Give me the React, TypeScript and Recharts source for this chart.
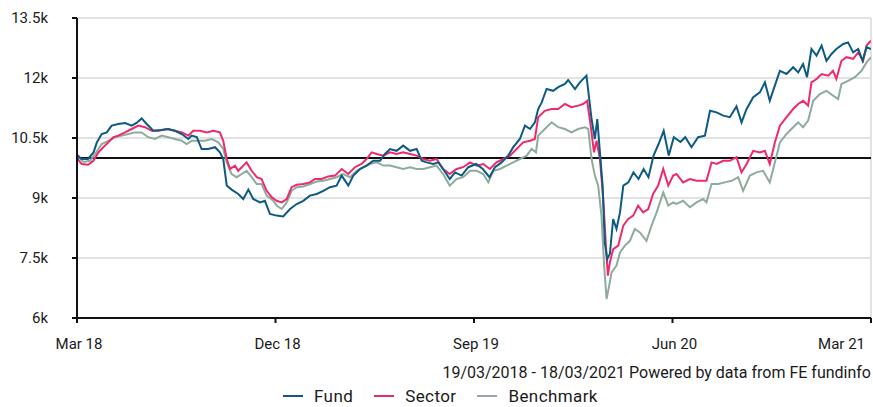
import {
  LineChart,
  Line,
  XAxis,
  YAxis,
  CartesianGrid,
  ReferenceLine,
} from 'recharts';

// months since 19/03/2018
const fundMonths = [
  0, 0.2, 0.5, 0.75, 0.9, 1.12, 1.35, 1.57, 1.87, 2.18, 2.48, 2.7, 2.93, 3.16, 3.46, 3.84, 4.14,
  4.44, 4.75, 5.05, 5.2, 5.43, 5.65, 5.95, 6.26, 6.48, 6.63, 6.79, 7.01, 7.31, 7.54, 7.77, 7.99,
  8.3, 8.52, 8.75, 9.05, 9.35, 9.66, 9.96, 10.26, 10.56, 10.87, 11.17, 11.47, 11.77, 12.0, 12.3,
  12.53, 12.83, 13.13, 13.43, 13.74, 13.96, 14.19, 14.49, 14.79, 15.1, 15.4, 15.63, 15.85, 16.15,
  16.38, 16.6, 16.9, 17.14, 17.44, 17.74, 18.1, 18.4, 18.7, 18.95, 19.25, 19.55, 19.78, 20.08,
  20.31, 20.54, 20.76, 20.91, 21.07, 21.29, 21.59, 21.82, 22.12, 22.27, 22.58, 22.8, 23.1, 23.33,
  23.48, 23.59, 23.71, 23.83, 23.93, 24.04, 24.16, 24.31, 24.46, 24.62, 24.77, 25.0, 25.23, 25.46,
  25.69, 25.91, 26.14, 26.37, 26.6, 26.83, 27.06, 27.36, 27.58, 27.86, 28.16, 28.47, 28.7, 29.0,
  29.3, 29.6, 29.9, 30.13, 30.36, 30.66, 30.96, 31.19, 31.41, 31.64, 31.87, 32.17, 32.47, 32.7,
  32.92, 33.1, 33.3, 33.53, 33.76, 33.98, 34.21, 34.43, 34.74, 34.96, 35.19, 35.42, 35.62, 35.8, 36,
];
const fundValues = [
  10080, 9975, 9975, 10140, 10390, 10600, 10640, 10810, 10850, 10875, 10810, 10875, 10990, 10850,
  10680, 10700, 10725, 10680, 10600, 10475, 10560, 10525, 10225, 10225, 10270, 10140, 9975, 9310,
  9210, 9100, 8975, 9210, 8975, 8890, 8930, 8600, 8560, 8540, 8725, 8850, 8930, 9060, 9100, 9180,
  9270, 9310, 9560, 9310, 9560, 9725, 9810, 9930, 9930, 10100, 10225, 10180, 10310, 10180, 10225,
  9930, 9890, 9850, 9890, 9725, 9475, 9640, 9560, 9770, 9850, 9725, 9520, 9770, 9890, 10060, 10270,
  10475, 10810, 10725, 10890, 11225, 11390, 11725, 11680, 11770, 11850, 11950, 11725, 11890, 12060,
  10975, 10475, 10975, 10140, 9310, 7890, 7475, 7600, 8475, 8225, 8640, 9310, 9390, 9640, 9475,
  9725, 9520, 10060, 10350, 10680, 10060, 10520, 10400, 10520, 10270, 10520, 10560, 11180, 11140,
  11060, 11020, 11290, 10890, 11225, 11520, 11640, 11890, 11430, 11810, 12180, 12100, 12270, 12140,
  12350, 12020, 12725, 12560, 12810, 12430, 12600, 12725, 12850, 12890, 12640, 12725, 12430, 12770,
  12725,
];

const sectorMonths = [
  0, 0.21, 0.51, 0.74, 0.97, 1.19, 1.42, 1.65, 1.87, 2.18, 2.48, 2.78, 3.08, 3.39, 3.69, 4.07,
  4.44, 4.75, 5.05, 5.27, 5.58, 5.88, 6.18, 6.48, 6.63, 6.79, 6.94, 7.16, 7.31, 7.54, 7.69, 7.92,
  8.15, 8.37, 8.6, 8.83, 9.05, 9.28, 9.51, 9.73, 9.96, 10.26, 10.56, 10.79, 11.09, 11.39, 11.7,
  12.0, 12.3, 12.6, 12.9, 13.13, 13.36, 13.59, 13.89, 14.19, 14.49, 14.79, 15.1, 15.4, 15.7, 16.0,
  16.3, 16.6, 16.9, 17.21, 17.51, 17.82, 18.12, 18.42, 18.72, 19.02, 19.33, 19.63, 19.93, 20.23,
  20.54, 20.76, 20.91, 21.21, 21.52, 21.82, 22.12, 22.42, 22.72, 22.95, 23.13, 23.29, 23.44, 23.56,
  23.71, 23.86, 23.98, 24.07, 24.16, 24.31, 24.54, 24.77, 24.99, 25.22, 25.44, 25.67, 25.9, 26.12,
  26.35, 26.58, 26.81, 27.03, 27.18, 27.48, 27.79, 28.09, 28.54, 28.77, 29.0, 29.3, 29.6, 29.9,
  30.13, 30.36, 30.66, 30.96, 31.19, 31.41, 31.64, 31.87, 32.17, 32.47, 32.7, 32.92, 33.15, 33.3,
  33.53, 33.76, 34.06, 34.28, 34.43, 34.66, 34.89, 35.19, 35.42, 35.64, 35.8, 36,
];
const sectorValues = [
  10000, 9850, 9830, 9930, 10140, 10270, 10390, 10520, 10560, 10640, 10725, 10810, 10770, 10680,
  10680, 10725, 10680, 10640, 10560, 10680, 10680, 10640, 10680, 10640, 10430, 9975, 9725, 9810,
  9680, 9810, 9890, 9680, 9520, 9475, 9180, 9020, 8930, 8890, 8975, 9270, 9330, 9350, 9390, 9475,
  9475, 9540, 9560, 9725, 9600, 9770, 9850, 9975, 10140, 10100, 10060, 10140, 10100, 10140, 10100,
  10060, 9975, 9930, 9975, 9725, 9600, 9725, 9770, 9890, 9810, 9850, 9725, 9890, 9975, 10060, 10225,
  10390, 10430, 10475, 11020, 11180, 11225, 11225, 11350, 11270, 11310, 11350, 11430, 10810, 10140,
  10430, 9975, 8975, 7810, 7060, 7390, 7720, 7810, 8310, 8475, 8560, 8810, 8640, 8725, 9100, 9310,
  9725, 9310, 9560, 9600, 9390, 9475, 9430, 9430, 9890, 9850, 9930, 9930, 10020, 9640, 9850, 10180,
  10140, 10180, 9850, 10390, 10810, 11020, 11225, 11350, 11430, 11310, 11890, 11975, 12100, 12060,
  12180, 11975, 12430, 12520, 12480, 12640, 12430, 12810, 12930,
];

const benchMonths = [
  0, 0.29, 0.59, 0.82, 1.12, 1.42, 1.72, 2.03, 2.33, 2.63, 2.93, 3.23, 3.54, 3.84, 4.14, 4.44,
  4.75, 4.97, 5.2, 5.5, 5.8, 6.11, 6.41, 6.63, 6.79, 7.01, 7.24, 7.47, 7.69, 7.92, 8.15, 8.37, 8.6,
  8.9, 9.05, 9.28, 9.51, 9.73, 9.96, 10.26, 10.56, 10.87, 11.17, 11.47, 11.77, 12.07, 12.38, 12.68,
  12.98, 13.28, 13.59, 13.89, 14.19, 14.49, 14.79, 15.1, 15.4, 15.7, 16.0, 16.3, 16.6, 16.9, 17.21,
  17.51, 17.82, 18.12, 18.42, 18.65, 18.87, 19.18, 19.48, 19.78, 20.08, 20.39, 20.61, 20.81, 20.91,
  21.21, 21.52, 21.82, 22.12, 22.42, 22.72, 23.03, 23.18, 23.33, 23.48, 23.63, 23.78, 23.9, 24.01,
  24.13, 24.24, 24.46, 24.62, 24.84, 25.07, 25.29, 25.52, 25.82, 26.05, 26.28, 26.58, 26.81, 27.03,
  27.18, 27.48, 27.79, 28.09, 28.39, 28.54, 28.77, 29.07, 29.37, 29.68, 29.98, 30.2, 30.51, 30.81,
  31.11, 31.41, 31.64, 31.87, 32.17, 32.47, 32.7, 32.92, 33.15, 33.38, 33.68, 33.98, 34.28, 34.51,
  34.66, 34.96, 35.27, 35.57, 35.8, 36,
];
const benchValues = [
  10060, 9900, 9930, 10100, 10350, 10430, 10520, 10560, 10600, 10640, 10640, 10520, 10475, 10560,
  10520, 10475, 10430, 10350, 10430, 10430, 10430, 10475, 10390, 10225, 9890, 9600, 9520, 9600,
  9680, 9520, 9350, 9350, 9060, 8930, 8810, 8725, 8890, 9180, 9270, 9290, 9350, 9410, 9430, 9475,
  9520, 9600, 9520, 9680, 9770, 9850, 9890, 9810, 9810, 9770, 9725, 9770, 9725, 9725, 9770, 9810,
  9600, 9310, 9475, 9520, 9680, 9680, 9600, 9390, 9680, 9725, 9810, 9890, 9975, 10060, 10225, 10140,
  10560, 10725, 10890, 10770, 10725, 10640, 10725, 10770, 10725, 9975, 9560, 9310, 8560, 7310, 6475,
  6810, 7140, 7310, 7640, 7810, 7930, 8225, 8140, 7930, 8310, 8640, 9140, 8810, 8890, 8850, 8930,
  8770, 8890, 8975, 8890, 9350, 9350, 9390, 9430, 9520, 9180, 9560, 9640, 9680, 9390, 9890, 10390,
  10600, 10770, 10890, 10770, 10935, 11430, 11600, 11680, 11560, 11475, 11850, 11930, 12020, 12180,
  12390, 12520,
];

const yTicks = [6000, 7500, 9000, 10500, 12000, 13500];
const xTicks = [0, 9, 18, 27, 36];
const xTickLabels = ['Mar 18', 'Dec 18', 'Sep 19', 'Jun 20', 'Mar 21'];

const toPoints = (months: number[], values: number[]) =>
  months.map((m, i) => ({ m, v: values[i] }));

const fundData = toPoints(fundMonths, fundValues);
const sectorData = toPoints(sectorMonths, sectorValues);
const benchData = toPoints(benchMonths, benchValues);

const FUND = '#0d5a82';
const SECTOR = '#ee2a6c';
const BENCH = '#8eab9b';

const XTick = (props: any) => {
  const { x, y, payload, index } = props;
  const last = index === xTicks.length - 1;
  return (
    <text
      x={last ? x : x + 2}
      y={y}
      dy='0.71em'
      textAnchor={last ? 'end' : 'middle'}
      fill='#1a1a1a'
      fontSize={15}
    >
      {xTickLabels[xTicks.indexOf(payload.value)]}
    </text>
  );
};

const LegendItem = ({ color, label }: { color: string; label: string }) => (
  <div style={{ display: 'flex', alignItems: 'center', marginRight: 21 }}>
    <div style={{ width: 20, height: 2, background: color, marginRight: 11 }} />
    <span>{label}</span>
  </div>
);

const App = () => {
  return (
    <div
      style={{
        position: 'absolute',
        left: 0,
        top: 0,
        width: 873,
        height: 407,
        fontFamily: 'Roboto, sans-serif',
        color: '#1a1a1a',
      }}
    >
      <LineChart
        width={873}
        height={360}
        margin={{ top: 18, right: 2, bottom: 2, left: 0 }}
      >
        <CartesianGrid vertical={false} stroke='#d9d9d9' strokeWidth={1.5} />
        <ReferenceLine x={36} stroke='#d9d9d9' strokeWidth={1.5} />
        <XAxis
          type='number'
          dataKey='m'
          domain={[0, 36]}
          ticks={xTicks}
          height={40}
          tickSize={5}
          tickMargin={15}
          stroke='#111'
          strokeWidth={2}
          tick={<XTick />}
          allowDataOverflow
        />
        <YAxis
          type='number'
          dataKey='v'
          domain={[6000, 13500]}
          ticks={yTicks}
          width={77}
          tickSize={5}
          tickMargin={24}
          stroke='#111'
          strokeWidth={2}
          tick={{ fill: '#1a1a1a', fontSize: 15 }}
          tickFormatter={(v: number) => `${v / 1000}k`}
          allowDataOverflow
        />
        <ReferenceLine y={10000} stroke='#111' strokeWidth={2} />
        <Line
          data={benchData}
          dataKey='v'
          stroke={BENCH}
          strokeWidth={2}
          dot={false}
          isAnimationActive={false}
        />
        <Line
          data={sectorData}
          dataKey='v'
          stroke={SECTOR}
          strokeWidth={2}
          dot={false}
          isAnimationActive={false}
        />
        <Line
          data={fundData}
          dataKey='v'
          stroke={FUND}
          strokeWidth={2}
          dot={false}
          isAnimationActive={false}
        />
      </LineChart>
      <div
        style={{
          position: 'absolute',
          right: 2,
          top: 364,
          fontSize: 16,
          lineHeight: '18px',
          whiteSpace: 'nowrap',
        }}
      >
        19/03/2018 - 18/03/2021 Powered by data from FE fundinfo
      </div>
      <div
        style={{
          position: 'absolute',
          left: 283,
          top: 388,
          height: 16,
          display: 'flex',
          fontSize: 17,
          letterSpacing: 0.4,
          lineHeight: '16px',
        }}
      >
        <LegendItem color={FUND} label='Fund' />
        <LegendItem color={SECTOR} label='Sector' />
        <LegendItem color={BENCH} label='Benchmark' />
      </div>
    </div>
  );
};

export default App;
